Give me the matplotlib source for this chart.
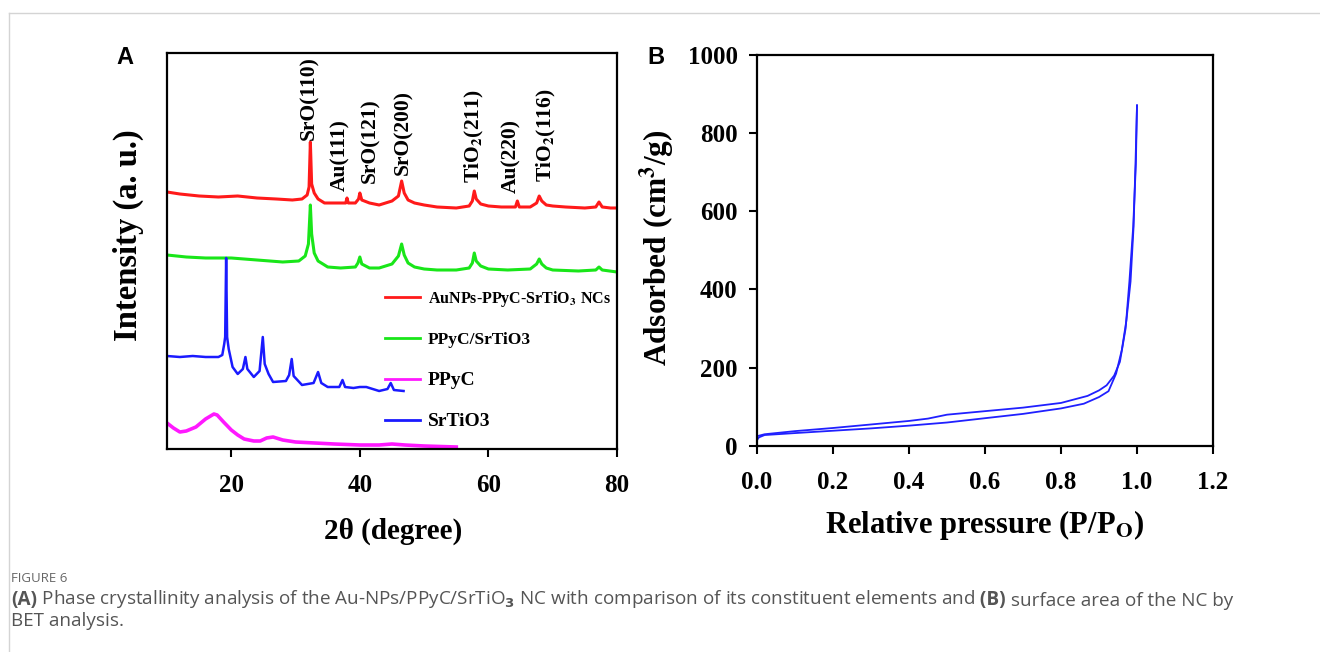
import matplotlib
matplotlib.use('Agg')
import matplotlib.pyplot as plt
from matplotlib.lines import Line2D
import numpy as np

plt.rcParams['font.family'] = ['Liberation Serif', 'DejaVu Serif']
plt.rcParams['font.weight'] = 'bold'
plt.rcParams['mathtext.fontset'] = 'stix'

# ---- panel A: XRD patterns (2theta, stacked intensity in a.u.) ----
red_x = [10, 12, 15, 18, 21, 24, 27, 29.5, 31.0, 31.8, 32.1, 32.3, 32.5, 32.9, 33.5, 34.5,
         36.5, 37.8, 38.0, 38.2, 39.3, 39.8, 40.0, 40.3, 41.5, 43, 45.0, 46.0, 46.5, 46.9,
         47.5, 48.5, 50, 52, 55, 57.0, 57.5, 57.8, 58.1, 58.8, 60, 62, 64.2, 64.5, 64.8,
         66.5, 67.5, 67.9, 68.3, 69, 70, 72, 75, 76.7, 77.2, 77.7, 79, 80]
red_y = [257, 255, 253, 252, 253, 251, 250, 249, 250, 254, 262, 307, 265, 256, 250, 246,
         246, 246, 251, 246, 246, 250, 256, 249, 246, 244, 248, 253, 268, 256,
         249, 246, 244, 242, 241, 243, 248, 258, 250, 245, 243, 242, 242, 248, 242,
         242, 246, 253, 248, 244, 243, 242, 241, 242, 247, 242, 241, 241]

green_x = [10, 13, 16, 20, 24, 28, 30.5, 31.5, 32.0, 32.3, 32.5, 32.9, 33.5, 35, 37, 39.3,
           39.7, 40.0, 40.3, 41.5, 43, 45.0, 46.0, 46.5, 46.9, 47.5, 48.5, 50, 52, 55,
           57.0, 57.5, 57.8, 58.1, 58.8, 60, 63, 66.5, 67.5, 67.9, 68.3, 69, 70, 74,
           76.7, 77.2, 77.7, 80]
green_y = [194, 192, 191, 191, 189, 187, 188, 193, 205, 244, 215, 196, 188, 182, 181, 182,
           186, 192, 185, 181, 181, 185, 193, 205, 194, 186, 182, 180, 179, 179,
           181, 186, 196, 188, 183, 180, 179, 180, 185, 190, 185, 181, 179, 178,
           179, 182, 179, 177]

blue_x = [10, 12, 14, 16, 18.0, 18.6, 18.9, 19.05, 19.2, 19.35, 19.6, 20.2, 21.0, 21.8,
          22.2, 22.5, 23.5, 24.4, 24.9, 25.2, 25.8, 26.5, 28.5, 29.0, 29.4, 29.7, 31,
          32.8, 33.5, 34.0, 35, 36.8, 37.3, 37.7, 39, 40, 41, 43, 44.3, 44.8, 45.3, 46.8]
blue_y = [93, 92, 93, 92, 92, 94, 105, 112, 191, 112, 100, 82, 75, 80,
          92, 80, 72, 78, 112, 85, 75, 67, 68, 74, 90, 73, 64,
          66, 77, 66, 62, 62, 69, 62, 61, 62, 62, 58, 60, 66, 59, 58]

magenta_x = [10, 11, 12, 13, 14.5, 16, 17.3, 17.8, 18.8, 20, 21, 22, 23.5, 24.5, 25.5,
             26.5, 28, 30, 33, 36, 40, 43, 45, 47, 50, 55]
magenta_y = [26, 21, 17, 18, 22, 30, 35, 34, 27, 19, 14, 10, 8, 8, 11,
             12, 9, 7, 6, 5, 4, 4, 5, 4, 3, 2]

peak_labels = ['SrO(110)', 'Au(111)', 'SrO(121)', 'SrO(200)',
               r'TiO$_\mathbf{2}$(211)', 'Au(220)', r'TiO$_\mathbf{2}$(116)']
peak_x = [32.2, 37.0, 41.6, 46.7, 57.8, 63.6, 69.1]
peak_y = [309, 258, 266, 274, 266, 256, 267]

legend_labels = [r'AuNPs-PPyC-SrTiO$_\mathbf{3}$ NCs', 'PPyC/SrTiO3', 'PPyC', 'SrTiO3']
legend_sizes = [11.5, 12.5, 14, 14]

# ---- panel B: N2 isotherm ----
p_ads = [0.0, 0.005, 0.02, 0.1, 0.2, 0.3, 0.4, 0.5, 0.6, 0.7, 0.8, 0.86, 0.9, 0.925,
         0.945, 0.96, 0.972, 0.983, 0.991, 0.996, 1.0]
v_ads = [15, 22, 28, 33, 39, 45, 52, 60, 71, 82, 96, 108, 125, 140,
         185, 245, 320, 420, 560, 720, 870]
p_des = [1.0, 0.997, 0.99, 0.98, 0.97, 0.955, 0.94, 0.92, 0.9, 0.87, 0.8, 0.7, 0.6,
         0.5, 0.47, 0.45, 0.4, 0.3, 0.2, 0.1, 0.02, 0.0]
v_des = [870, 720, 560, 420, 300, 215, 180, 155, 142, 128, 110, 98, 89,
         80, 74, 70, 64, 55, 46, 38, 30, 25]

fig = plt.figure(figsize=(13.2, 6.52), dpi=100)

# thin page border of the figure box
fig.add_artist(Line2D([9/1320, 9/1320], [0, 1 - 12.7/652], color='#d4d4d4', lw=1))
fig.add_artist(Line2D([9/1320, 1], [1 - 12.7/652, 1 - 12.7/652], color='#d4d4d4', lw=1))

# panel A
ax1 = fig.add_axes([167/1320, 1 - 449/652, 450/1320, 396/652])
l_red, = ax1.plot(red_x, red_y, color='#ff1a1a', lw=2.2)
l_green, = ax1.plot(green_x, green_y, color='#19e619', lw=2.2)
l_blue, = ax1.plot(blue_x, blue_y, color='#1a1aff', lw=1.8)
l_mag, = ax1.plot(magenta_x, magenta_y, color='#ff19ff', lw=2.6)
ax1.set_xlim(10, 80)
ax1.set_ylim(0, 396)
ax1.set_xticks([20, 40, 60, 80])
ax1.set_yticks([])
ax1.tick_params(axis='x', direction='out', length=6, width=1.5, labelsize=18, pad=12)
for s in ax1.spines.values():
    s.set_linewidth(1.6)

for lab, x, y in zip(peak_labels, peak_x, peak_y):
    ax1.text(x, y, lab, rotation=90, ha='center', va='bottom', fontsize=15.5)

leg = ax1.legend([l_red, l_green, l_mag, l_blue], legend_labels, loc='upper left',
                 bbox_to_anchor=(0.484, 0.405), frameon=False, fontsize=12,
                 handlelength=2.1, handletextpad=0.5, labelspacing=1.42, borderpad=0,
                 borderaxespad=0)
for t, sz in zip(leg.get_texts(), legend_sizes):
    t.set_fontsize(sz)
for h in leg.get_lines():
    h.set_linewidth(2)

fig.text(128/1320, 1 - 235/652, 'Intensity (a. u.)', rotation=90, ha='center',
         va='center', fontsize=23.5)
fig.text(393/1320, 1 - 531/652, '2θ (degree)', ha='center', va='center', fontsize=21)

# panel B
ax2 = fig.add_axes([757/1320, 1 - 446/652, 456/1320, 391.5/652])
ax2.plot(p_ads, v_ads, color='#2020ff', lw=1.3)
ax2.plot(p_des, v_des, color='#2020ff', lw=1.3)
ax2.set_xlim(0, 1.2)
ax2.set_ylim(0, 1000)
ax2.set_xticks(np.arange(0, 1.21, 0.2))
ax2.set_xticklabels(['%.1f' % v for v in np.arange(0, 1.21, 0.2)])
ax2.set_yticks(np.arange(0, 1001, 200))
ax2.tick_params(direction='out', length=6, width=1.5, labelsize=18)
ax2.tick_params(axis='x', pad=12)
ax2.tick_params(axis='y', pad=8)
for s in ax2.spines.values():
    s.set_linewidth(1.6)

fig.text(657/1320, 1 - 248/652, r'Adsorbed (cm$^\mathbf{3}$/g)', rotation=90,
         ha='center', va='center', fontsize=22.5)
fig.text(985/1320, 1 - 525/652, r'Relative pressure (P/P$_\mathbf{O}$)', ha='center',
         va='center', fontsize=22)

# panel letters
fig.text(125/1320, 1 - 58/652, 'A', family='Liberation Sans', fontsize=17,
         ha='center', va='center')
fig.text(656/1320, 1 - 58/652, 'B', family='Liberation Sans', fontsize=17,
         ha='center', va='center')

# caption
cap = fig.add_axes([0, 0, 1, 1])
cap.axis('off')
cap.set_xlim(0, 1)
cap.set_ylim(0, 1)
cap_kw = dict(family='Open Sans', color='#555555', fontsize=13.6, math_fontfamily='dejavusans')
cap.text(11/1320, 1 - 578/652, 'FIGURE 6', family='Open Sans', color='#666666',
         fontsize=9.5, weight='normal', va='center')
t1 = cap.text(11/1320, 1 - 600/652, '(A)', weight='bold', va='center', **cap_kw)
t2 = cap.annotate(' Phase crystallinity analysis of the Au-NPs/PPyC/SrTiO$_3$ NC with '
                  'comparison of its constituent elements and', xy=(1, 0), xycoords=t1,
                  va='bottom', weight='normal', **cap_kw)
t3 = cap.annotate(' (B)', xy=(1, 0), xycoords=t2, va='bottom', weight='bold', **cap_kw)
cap.annotate(' surface area of the NC by', xy=(1, 0), xycoords=t3, va='bottom',
             weight='normal', **cap_kw)
cap.text(11/1320, 1 - 621/652, 'BET analysis.', weight='normal', va='center', **cap_kw)

fig.savefig('out.png', dpi=100)
